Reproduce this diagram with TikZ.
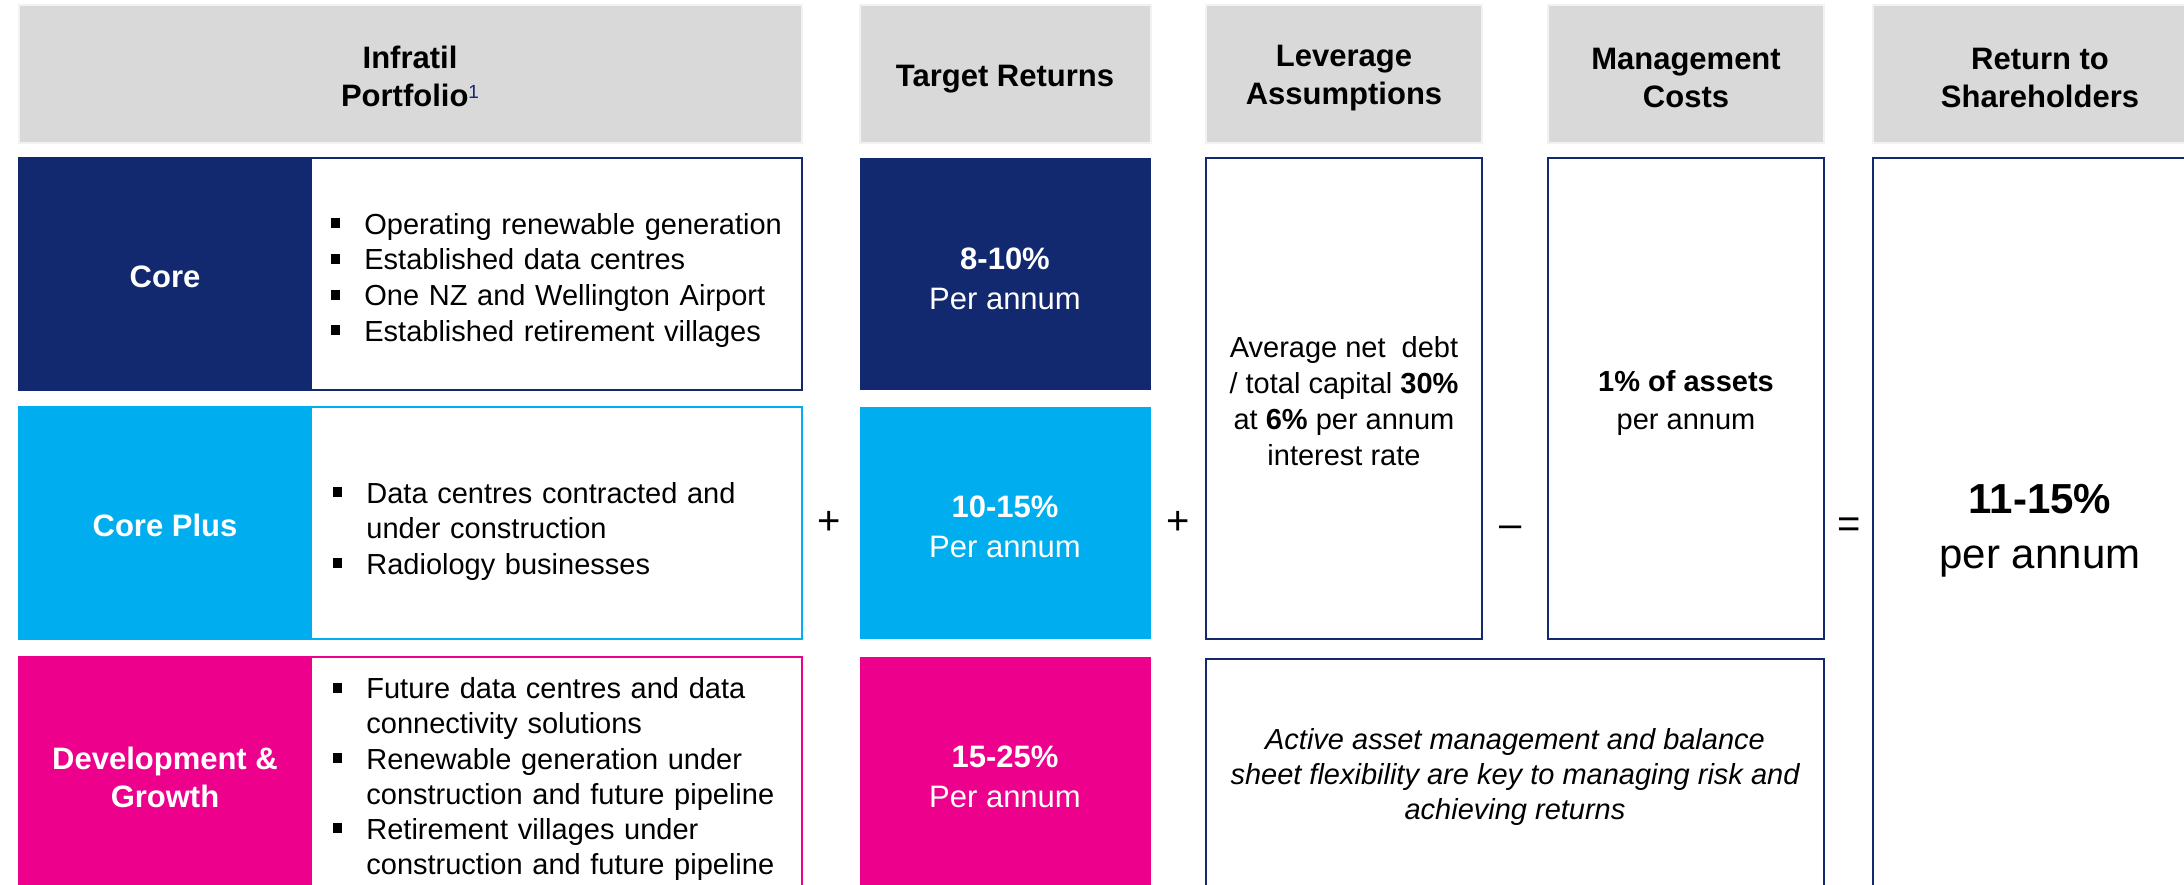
\documentclass[tikz,border=0pt]{standalone}
\usepackage{fontspec}
\setmainfont{Liberation Sans}
\usetikzlibrary{fit}
\definecolor{navy}{RGB}{19,41,111}
\definecolor{skyb}{RGB}{0,174,239}
\definecolor{mag}{RGB}{236,0,140}
\definecolor{hgray}{RGB}{217,217,217}
\definecolor{hline}{RGB}{242,242,242}
\newcommand{\bl}[1]{\par\noindent\hangindent=16.5pt\hangafter=1\makebox[16.5pt][l]{\rule[3pt]{4.5pt}{5pt}}#1\par}
\begin{document}
\begin{tikzpicture}[x=0.5pt,y=-0.5pt,
  hdr/.style={fill=hgray,draw=hline,line width=1pt,inner sep=0pt},
  htxt/.style={inner sep=0pt,align=center,font=\bfseries\fontsize{15.5}{19}\selectfont},
  rowbox/.style={fill=white,line width=1.2pt,inner sep=0pt},
  lblbox/.style={inner sep=0pt},
  lbl/.style={inner sep=0pt,align=center,text=white,font=\bfseries\fontsize{15.5}{19}\selectfont},
  blist/.style={anchor=west,inner sep=0pt,text width=230pt,font=\fontsize{14.5}{17.8}\selectfont},
  tgt/.style={inner sep=0pt,align=center,text=white,font=\fontsize{15.5}{20}\selectfont},
  nbox/.style={draw=navy,fill=white,line width=1.2pt,inner sep=0pt},
  ntxt/.style={inner sep=0pt,align=center,font=\fontsize{14.5}{18}\selectfont},
  op/.style={inner sep=0pt,font=\fontsize{20}{24}\selectfont}]
\useasboundingbox (0,0) rectangle (2184,884);
\clip (0,0) rectangle (2184,884);
% headers
\node[hdr,fit={(19,5)(802,143)}] (hInf) {};
\node[hdr,fit={(860,5)(1151,143)}] (hTR) {};
\node[hdr,fit={(1206,5)(1482,143)}] (hLev) {};
\node[hdr,fit={(1548,5)(1824,143)}] (hMgmt) {};
\node[hdr,fit={(1873,5)(2207,143)}] (hRet) {};
\node[htxt] (hInfT) at (410,76) {Infratil\\Portfolio\raisebox{4pt}{\fontsize{9.5}{10}\selectfont\mdseries\color{navy}1}};
\node[htxt] (hTRT) at (1005,79) {Target Returns};
\node[htxt] (hLevT) at (1344,78) {Leverage\\Assumptions};
\node[htxt] (hMgmtT) at (1686,78) {Management\\Costs};
\node[htxt] (hRetT) at (2040,78) {Return to\\Shareholders};
% Core row
\node[rowbox,draw=navy,fit={(19,158)(802,390)}] (coreRow) {};
\node[lblbox,fill=navy,fit={(19,158)(312,390)}] (coreLbl) {};
\node[lbl] (coreLblT) at (165,277) {Core};
\node[blist] (coreList) at (331,273) {\bl{Operating renewable generation}\bl{Established data centres}\bl{One NZ and Wellington Airport}\bl{Established retirement villages}};
% Core Plus row
\node[rowbox,draw=skyb,fit={(19,407)(802,639)}] (cpRow) {};
\node[lblbox,fill=skyb,fit={(19,407)(312,639)}] (cpLbl) {};
\node[lbl] (cpLblT) at (165,525) {Core Plus};
\node[blist] (cpList) at (333,524) {\bl{Data centres contracted and\newline under construction}\bl{Radiology businesses}};
% Development row
\node[rowbox,draw=mag,fit={(19,657)(802,895)}] (dvRow) {};
\node[lblbox,fill=mag,fit={(19,657)(312,895)}] (dvLbl) {};
\node[lbl] (dvLblT) at (165,777) {Development \&\\Growth};
\node[blist,font=\fontsize{14.5}{17.55}\selectfont] (dvList) at (333,772) {\bl{Future data centres and data\newline connectivity solutions}\bl{Renewable generation under\newline construction and future pipeline}\bl{Retirement villages under\newline construction and future pipeline}};
% target returns
\node[lblbox,fill=navy,fit={(860,158)(1151,390)}] (tCore) {};
\node[lblbox,fill=skyb,fit={(860,407)(1151,639)}] (tCP) {};
\node[lblbox,fill=mag,fit={(860,657)(1151,895)}] (tDv) {};
\node[tgt] (tCoreT) at (1005,279) {\textbf{8-10\%}\\Per annum};
\node[tgt] (tCPT) at (1005,527) {\textbf{10-15\%}\\Per annum};
\node[tgt] (tDvT) at (1005,777) {\textbf{15-25\%}\\Per annum};
% leverage, management
\node[nbox,fit={(1206,158)(1482,639)}] (lev) {};
\node[nbox,fit={(1548,158)(1824,639)}] (mgmt) {};
\node[nbox,fit={(1206,659)(1824,895)}] (active) {};
\node[ntxt] (levT) at (1344,401) {Average net\ \ debt\\/ total capital \textbf{30\%}\\at \textbf{6\%} per annum\\interest rate};
\node[ntxt,font=\fontsize{14.5}{19}\selectfont] (mgmtT) at (1686,403) {\textbf{1\% of assets}\\per annum};
\node[ntxt,font=\itshape\fontsize{14.5}{17.5}\selectfont] (activeT) at (1515,777) {Active asset management and balance\\sheet flexibility are key to managing risk and\\achieving returns};
% return
\node[nbox,fit={(1873,158)(2207,895)}] (ret) {};
\node[inner sep=0pt,align=center,font=\fontsize{21}{27.5}\selectfont] (retTxt) at (2040,531) {\textbf{11-15\%}\\per annum};
% operators
\node[op] (plus1) at (829,523) {+};
\node[op] (plus2) at (1178,523) {+};
\node[op] (minus) at (1511,532) {\textendash};
\node[op] (equals) at (1849,528) {=};
\end{tikzpicture}
\end{document}
